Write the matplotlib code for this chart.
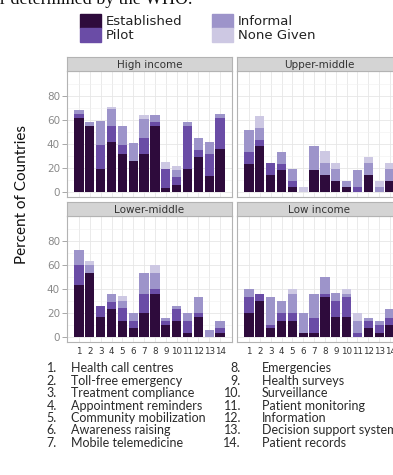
import numpy as np
import matplotlib.pyplot as plt
from matplotlib.patches import Rectangle

W, H = 393, 475

cats = np.arange(1, 15)
tick_labels = [str(c) for c in cats]
yticks = [0, 20, 40, 60, 80]

panels = ['High income', 'Upper-middle', 'Lower-middle', 'Low income']
series = ['Established', 'Pilot', 'Informal', 'None Given']
colors = ['#2e0b3c', '#6a4ca6', '#9d94ca', '#cdc8e3']

# percent of countries, stacked: established / pilot / informal / none given
high_est = [62, 55, 19, 42, 32, 26, 32, 55, 3, 6, 19, 29, 13, 36]
high_pil = [3, 0, 20, 13, 7, 0, 13, 3, 16, 6, 36, 6, 19, 26]
high_inf = [3, 3, 20, 14, 16, 15, 16, 6, 0, 6, 3, 10, 10, 3]
high_non = [0, 0, 0, 2, 0, 0, 3, 0, 6, 4, 0, 0, 0, 0]

upper_est = [23, 38, 14, 18, 4, 0, 18, 14, 9, 4, 0, 14, 0, 9]
upper_pil = [10, 5, 10, 5, 5, 0, 0, 0, 0, 0, 4, 0, 0, 0]
upper_inf = [19, 10, 0, 10, 10, 0, 20, 10, 10, 5, 14, 10, 4, 10]
upper_non = [0, 10, 0, 0, 0, 4, 0, 10, 5, 0, 0, 5, 5, 5]

lower_est = [43, 53, 17, 23, 13, 7, 20, 36, 10, 13, 3, 17, 0, 3]
lower_pil = [17, 0, 9, 6, 11, 6, 16, 4, 3, 10, 10, 3, 0, 4]
lower_inf = [13, 7, 0, 7, 6, 7, 17, 13, 3, 3, 7, 13, 6, 6]
lower_non = [0, 3, 0, 0, 4, 0, 0, 7, 0, 0, 0, 0, 0, 0]

low_est = [20, 30, 7, 13, 13, 3, 3, 33, 17, 17, 0, 7, 3, 10]
low_pil = [13, 6, 3, 7, 7, 0, 13, 3, 13, 16, 3, 6, 7, 6]
low_inf = [7, 0, 23, 10, 16, 17, 20, 14, 7, 3, 10, 3, 3, 7]
low_non = [0, 0, 0, 0, 4, 0, 0, 0, 0, 4, 7, 0, 0, 0]

data = [
    [high_est, high_pil, high_inf, high_non],
    [upper_est, upper_pil, upper_inf, upper_non],
    [lower_est, lower_pil, lower_inf, lower_non],
    [low_est, low_pil, low_inf, low_non],
]

items_left = ['Health call centres', 'Toll-free emergency', 'Treatment compliance',
              'Appointment reminders', 'Community mobilization', 'Awareness raising',
              'Mobile telemedicine']
items_right = ['Emergencies', 'Health surveys', 'Surveillance', 'Patient monitoring',
               'Information', 'Decision support systems', 'Patient records']


def px_axes(x0, y0, x1, y1):
    return fig.add_axes([x0 / W, 1 - y1 / H, (x1 - x0) / W, (y1 - y0) / H])


fig = plt.figure(figsize=(W / 100, H / 100), dpi=100)

# panel boxes in pixels: (x0, y0, x1, y1), strip on top
boxes = [(67, 71, 232, 197), (237, 71, 402, 197),
         (67, 216, 232, 342), (237, 216, 402, 342)]

for k, (x0, y0, x1, y1) in enumerate(boxes):
    ax = px_axes(x0, y0, x1, y1)
    bottom = np.zeros(len(cats))
    for vals, col in zip(data[k], colors):
        ax.bar(cats, vals, bottom=bottom, width=0.85, color=col, zorder=3)
        bottom += np.array(vals)
    ax.set_xlim(-0.1, 15.1)
    ax.set_ylim(-4.3, 101)
    ax.set_xticks(cats)
    ax.set_yticks(yticks)
    ax.set_yticks([10, 30, 50, 70, 90], minor=True)
    ax.grid(which='major', color='#e6e6e6', lw=0.6, zorder=0)
    ax.grid(which='minor', axis='y', color='#f0f0f0', lw=0.4, zorder=0)
    for s in ax.spines.values():
        s.set_color('#b3b3b3')
        s.set_linewidth(0.8)
    ax.tick_params(which='both', length=0)
    ax.tick_params(axis='y', which='major', length=3.5, color='#9a9a9a', width=0.6,
                   labelsize=7.5, labelcolor='#8a8a8a', pad=1.5)
    ax.tick_params(axis='x', which='major', labelsize=6.3, labelcolor='#333333', pad=3.5)
    if k % 2 == 0:
        ax.set_yticklabels([str(t) for t in yticks])
    else:
        ax.set_yticklabels([])
        ax.tick_params(axis='y', length=0)
    if k >= 2:
        ax.set_xticklabels(tick_labels)
    else:
        ax.set_xticklabels([])

    # strip
    st = px_axes(x0, y0 - 14, x1, y0)
    st.set_facecolor('#d4d4d4')
    st.set_xticks([])
    st.set_yticks([])
    for s in st.spines.values():
        s.set_color('#b3b3b3')
        s.set_linewidth(0.8)
    st.text(0.5, 0.45, panels[k], transform=st.transAxes, ha='center', va='center',
            fontsize=7.5, color='#333333')

fig.text(22 / W, 1 - 194 / H, 'Percent of Countries', rotation=90, ha='center', va='center',
         fontsize=11, family='Lato', color='#111111')

# legend
leg_pos = [(80, 14), (80, 28), (212, 14), (212, 28)]
for (lx, ly), name, col in zip(leg_pos, series, colors):
    fig.patches.append(Rectangle((lx / W, 1 - (ly + 14) / H), 21 / W, 14 / H,
                                 transform=fig.transFigure, color=col))
    fig.text((lx + 26) / W, 1 - (ly + 7.5) / H, name, ha='left', va='center',
             fontsize=9.5, color='#222222')

# cut-off caption line at the very top
fig.text(0 / W, 1 - 4 / H, 'r determined by the WHO.', ha='left', va='baseline',
         fontsize=13, family='Liberation Serif', color='#111111')

# numbered list of mHealth initiative types
fs = 9.0
for i, name in enumerate(items_left):
    yy = 1 - (368.5 + 12.4 * i) / H
    fig.text(57 / W, yy, f'{i + 1}.', ha='right', va='center', fontsize=fs,
             family='Lato', color='#2a2a2a')
    fig.text(71 / W, yy, name, ha='left', va='center', fontsize=fs,
             family='Lato', color='#2a2a2a')
for i, name in enumerate(items_right):
    yy = 1 - (368.5 + 12.4 * i) / H
    fig.text(241 / W, yy, f'{i + 8}.', ha='right', va='center', fontsize=fs,
             family='Lato', color='#2a2a2a')
    fig.text(262 / W, yy, name, ha='left', va='center', fontsize=fs,
             family='Lato', color='#2a2a2a')

fig.savefig('out.png', dpi=100)
